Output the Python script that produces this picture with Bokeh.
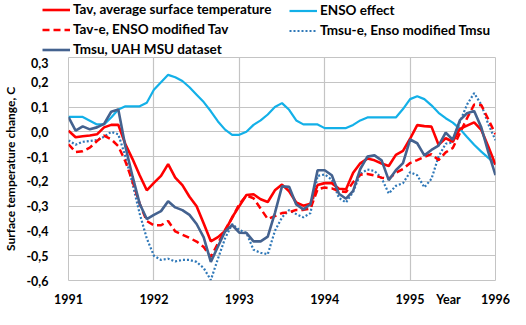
from bokeh.plotting import figure
from bokeh.layouts import column, row
from bokeh.models import (Range1d, FixedTicker, CustomJSTickFormatter, Legend,
                          LegendItem, Spacer)
from bokeh.embed import file_html
from bokeh.resources import INLINE

# monthly index from Jan 1991 (0) to Jan 1996 (60)
month_index = list(range(61))
year_ticks = [1991, 1992, 1993, 1994, 1995, 1996]
year_title_pos = 1995.45   # where the word "Year" sits among the tick labels
temp_ticks = [-0.6, -0.5, -0.4, -0.3, -0.2, -0.1, 0.0, 0.1, 0.2, 0.3]

enso = [0.06, 0.06, 0.06, 0.045, 0.03, 0.03, 0.058, 0.09, 0.103, 0.103,
        0.103, 0.117, 0.17, 0.2, 0.23, 0.22, 0.205, 0.18, 0.15, 0.12,
        0.083, 0.042, 0.009, -0.012, -0.012, 0.0, 0.028, 0.046, 0.07, 0.1,
        0.116, 0.089, 0.046, 0.03, 0.03, 0.03, 0.015, 0.015, 0.015, 0.015,
        0.028, 0.046, 0.058, 0.058, 0.058, 0.058, 0.058, 0.092, 0.132, 0.144,
        0.132, 0.107, 0.077, 0.055, 0.037, 0.012, -0.021, -0.052, -0.08, -0.105,
        -0.13]

tav = [0.005, -0.022, -0.018, -0.015, -0.01, 0.018, 0.028, 0.028, -0.05, -0.11,
       -0.175, -0.236, -0.206, -0.178, -0.13, -0.185, -0.215, -0.262, -0.3, -0.37,
       -0.442, -0.425, -0.4, -0.345, -0.3, -0.255, -0.252, -0.272, -0.283, -0.236,
       -0.213, -0.24, -0.285, -0.298, -0.29, -0.215, -0.207, -0.207, -0.23, -0.232,
       -0.165, -0.127, -0.108, -0.115, -0.128, -0.138, -0.093, -0.077, -0.028, 0.027,
       0.023, 0.021, -0.052, -0.026, -0.04, 0.012, 0.025, 0.038, 0.008, -0.06,
       -0.133]

tav_e = [-0.05, -0.082, -0.078, -0.064, -0.037, -0.015, -0.03, -0.058, -0.12, -0.2,
         -0.29, -0.36, -0.377, -0.377, -0.36, -0.402, -0.415, -0.428, -0.443, -0.465,
         -0.505, -0.45, -0.396, -0.347, -0.292, -0.257, -0.268, -0.31, -0.352, -0.34,
         -0.328, -0.325, -0.315, -0.315, -0.31, -0.232, -0.225, -0.228, -0.24, -0.243,
         -0.203, -0.173, -0.17, -0.176, -0.185, -0.19, -0.165, -0.15, -0.126, -0.114,
         -0.101, -0.09, -0.114, -0.083, -0.065, -0.005, 0.055, 0.11, 0.108, 0.05,
         -0.01]

tmsu = [0.059, 0.005, 0.022, 0.01, 0.018, 0.032, 0.081, 0.09, -0.06, -0.18,
        -0.29, -0.352, -0.335, -0.32, -0.28, -0.305, -0.316, -0.335, -0.372, -0.426,
        -0.525, -0.463, -0.402, -0.376, -0.407, -0.408, -0.442, -0.442, -0.423, -0.328,
        -0.22, -0.222, -0.293, -0.313, -0.292, -0.155, -0.155, -0.175, -0.25, -0.27,
        -0.238, -0.15, -0.1, -0.095, -0.115, -0.195, -0.155, -0.126, -0.031, -0.046,
        -0.095, -0.073, -0.056, -0.003, -0.032, 0.047, 0.075, 0.084, 0.018, -0.083,
        -0.175]

tmsu_e = [-0.035, -0.052, -0.04, -0.037, -0.033, -0.02, 0.0, -0.01, -0.1, -0.21,
          -0.33, -0.43, -0.5, -0.517, -0.512, -0.523, -0.517, -0.517, -0.525, -0.55,
          -0.598, -0.512, -0.43, -0.372, -0.396, -0.408, -0.476, -0.488, -0.494, -0.4,
          -0.345, -0.316, -0.332, -0.345, -0.328, -0.178, -0.172, -0.193, -0.267, -0.285,
          -0.242, -0.17, -0.152, -0.158, -0.187, -0.249, -0.218, -0.207, -0.163, -0.175,
          -0.224, -0.19, -0.1, -0.048, -0.043, 0.04, 0.11, 0.156, 0.11, 0.03,
          -0.034]

years = [1991 + m / 12.0 for m in month_index]

series = {"tav": tav, "tav_e": tav_e, "tmsu": tmsu, "enso": enso, "tmsu_e": tmsu_e}

FONT = "Lato"
RED = "#ff0000"
ENSO_C = "#13b0e8"
TMSU_C = "#44628f"
TMSUE_C = "#2f78b8"
GRID = "#c4c4c4"

STYLES = {
    "enso":   dict(line_color=ENSO_C, line_width=2.2),
    "tmsu_e": dict(line_color=TMSUE_C, line_width=2.2, line_dash="2 2"),
    "tav_e":  dict(line_color=RED, line_width=2.5, line_dash="7 4"),
    "tav":    dict(line_color=RED, line_width=2.6),
    "tmsu":   dict(line_color=TMSU_C, line_width=2.6),
}

# ---------------- main chart ----------------
p = figure(width=510, height=252, output_backend="svg", toolbar_location=None,
           x_range=Range1d(1991, 1996), y_range=Range1d(-0.6, 0.3),
           min_border_left=67, min_border_right=15, min_border_top=0,
           min_border_bottom=20)
p.background_fill_color = "white"
p.border_fill_color = "white"
p.outline_line_color = GRID
p.outline_line_width = 1

for key, style in STYLES.items():
    p.line(years, series[key], **style)

p.xaxis.ticker = FixedTicker(ticks=year_ticks + [year_title_pos])
p.yaxis.ticker = FixedTicker(ticks=temp_ticks)
p.xaxis.formatter = CustomJSTickFormatter(
    code="return Math.abs(tick - Math.round(tick)) > 0.01 ? 'Year' : tick.toFixed(0);")
p.yaxis.formatter = CustomJSTickFormatter(code="return tick.toFixed(1).replace('.', ',');")
for ax in (p.xaxis[0], p.yaxis[0]):
    ax.axis_line_color = None
    ax.major_tick_line_color = None
    ax.minor_tick_line_color = None
    ax.major_label_text_font = FONT
    ax.major_label_text_font_style = "bold"
    ax.major_label_text_font_size = "12.5px"
    ax.major_label_text_color = "black"
p.xaxis.major_label_standoff = 5
p.yaxis.major_label_standoff = 14
p.yaxis.axis_label = "Surface temperature change, C"
p.yaxis.axis_label_text_font = FONT
p.yaxis.axis_label_text_font_style = "bold"
p.yaxis.axis_label_text_font_size = "12px"
p.yaxis.axis_label_text_color = "black"
p.yaxis.axis_label_standoff = 5

p.xgrid.ticker = FixedTicker(ticks=year_ticks)
p.ygrid.ticker = FixedTicker(ticks=temp_ticks)
p.xgrid.grid_line_color = GRID
p.ygrid.grid_line_color = GRID
p.xgrid.grid_line_width = 1.2
p.ygrid.grid_line_width = 1.2

# ---------------- legend strip above the chart ----------------
LEG_W = 480
lg = figure(width=LEG_W, height=57, output_backend="svg", toolbar_location=None,
            x_range=Range1d(1991, 1996), y_range=Range1d(10, 11),
            x_axis_location=None, y_axis_location=None,
            min_border_left=0, min_border_right=0, min_border_top=0,
            min_border_bottom=0)
lg.grid.visible = False
lg.outline_line_color = None
lg.background_fill_color = "white"
lg.border_fill_color = "white"

# the same series, drawn out of this strip's view, only to key the legend
keys = {k: lg.line(years, series[k], **v) for k, v in STYLES.items()}

common = dict(orientation="vertical", glyph_width=28, glyph_height=15,
              label_height=15, label_standoff=3, spacing=4, padding=0, margin=0,
              border_line_alpha=0, background_fill_alpha=0,
              label_text_font=FONT, label_text_font_style="bold",
              label_text_font_size="13.5px", label_text_color="black")

leg1 = Legend(items=[
    LegendItem(label="Tav, average surface temperature", renderers=[keys["tav"]]),
    LegendItem(label="Tav-e, ENSO modified Tav", renderers=[keys["tav_e"]]),
    LegendItem(label="Tmsu, UAH MSU dataset", renderers=[keys["tmsu"]]),
], location=(12, 0), **common)
leg2 = Legend(items=[
    LegendItem(label="ENSO effect", renderers=[keys["enso"]]),
    LegendItem(label="Tmsu-e, Enso modified Tmsu", renderers=[keys["tmsu_e"]]),
], location=(259, 19), **common)
lg.add_layout(leg1, "center")
lg.add_layout(leg2, "center")

top = row(Spacer(width=510 - LEG_W, height=57), lg, spacing=0)
layout = column(top, p, spacing=0)
open("out.html", "w").write(file_html(layout, INLINE))
